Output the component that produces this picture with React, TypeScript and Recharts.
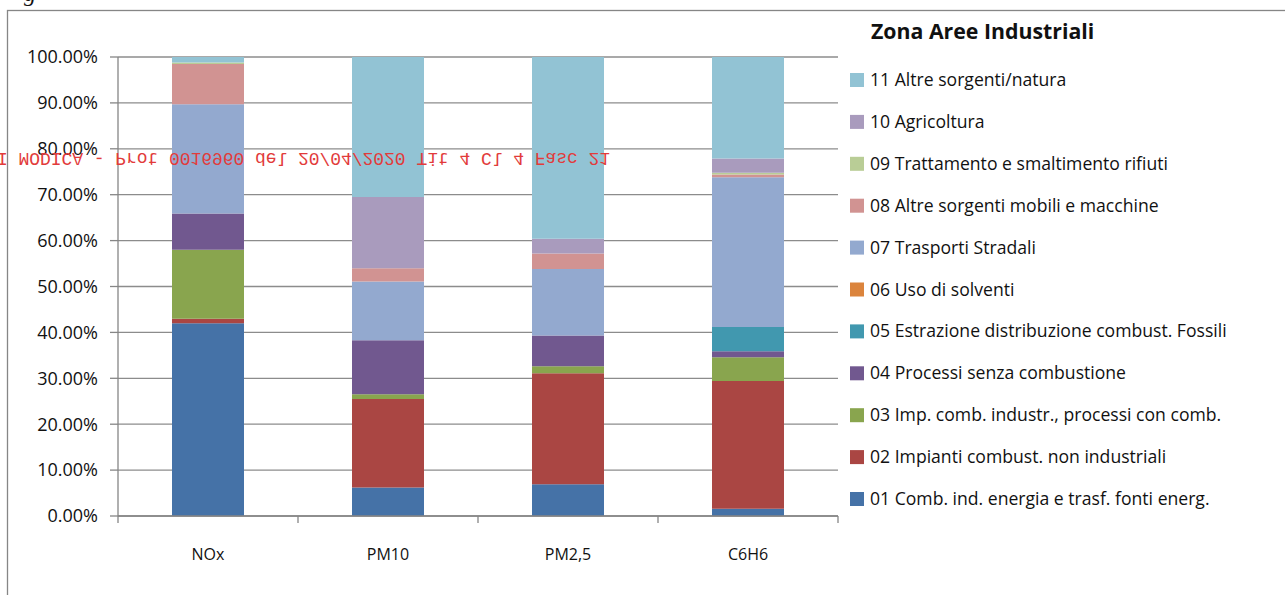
import { BarChart, Bar, XAxis, YAxis, CartesianGrid } from "recharts";

const categories = ["NOx", "PM10", "PM2,5", "C6H6"];

// share (%) of each emission macrosector per pollutant
const s01 = [42.0, 6.2, 6.9, 1.6];
const s02 = [1.0, 19.3, 24.2, 27.8];
const s03 = [15.0, 1.0, 1.5, 5.2];
const s04 = [7.9, 11.8, 6.7, 1.3];
const s05 = [0, 0, 0, 5.3];
const s06 = [0, 0, 0, 0];
const s07 = [23.8, 12.8, 14.5, 32.6];
const s08 = [8.8, 2.9, 3.4, 0.6];
const s09 = [0.3, 0, 0, 0.4];
const s10 = [0, 15.5, 3.2, 3.1];
const s11 = [1.2, 30.5, 39.6, 22.1];

const seriesValues = [s01, s02, s03, s04, s05, s06, s07, s08, s09, s10, s11];
const seriesKeys = ["s01", "s02", "s03", "s04", "s05", "s06", "s07", "s08", "s09", "s10", "s11"];
const seriesNames = [
  "01 Comb. ind. energia e trasf. fonti energ.",
  "02 Impianti combust. non industriali",
  "03 Imp. comb. industr., processi con comb.",
  "04 Processi senza combustione",
  "05 Estrazione distribuzione combust. Fossili",
  "06 Uso di solventi",
  "07 Trasporti Stradali",
  "08 Altre sorgenti mobili e macchine",
  "09 Trattamento e smaltimento rifiuti",
  "10 Agricoltura",
  "11 Altre sorgenti/natura",
];
const seriesColors = [
  "#4572a7",
  "#aa4643",
  "#89a54e",
  "#71588f",
  "#4198af",
  "#db843d",
  "#93a9cf",
  "#d19392",
  "#b9cd96",
  "#a99bbd",
  "#92c3d4",
];
const yTicks = [0, 10, 20, 30, 40, 50, 60, 70, 80, 90, 100];

const chartTitle = "Zona Aree Industriali";
const watermark = "I MODICA - Prot 0016960 del 20/04/2020 Tit 4 Cl 4 Fasc 21";

const data = categories.map((name, i) => {
  const row: Record<string, string | number> = { name };
  seriesKeys.forEach((k, j) => {
    row[k] = seriesValues[j][i];
  });
  return row;
});

const W = 1285;
const H = 595;
const M = { top: 57, right: 447, bottom: 39, left: 0 };
const Y_W = 118;
const X_H = 40;
const HALF_BAND = (W - M.left - Y_W - M.right) / categories.length / 2;
const GRAY = "#868686";
const FONT = "'Open Sans', Lato, sans-serif";

const XTick = (props: any) => {
  const { x, y, payload, index } = props;
  return (
    <g>
      <line x1={x - HALF_BAND} x2={x - HALF_BAND} y1={y} y2={y + 7} stroke={GRAY} strokeWidth={1.3} />
      {index === categories.length - 1 && (
        <line x1={x + HALF_BAND} x2={x + HALF_BAND} y1={y} y2={y + 7} stroke={GRAY} strokeWidth={1.3} />
      )}
      <text x={x} y={y + 44} textAnchor="middle" fontSize={16} fontFamily={FONT} fill="#111">
        {payload.value}
      </text>
    </g>
  );
};

export default function App() {
  return (
    <div style={{ position: "absolute", left: 0, top: 0, width: W, height: H, background: "#fff" }}>
      <BarChart width={W} height={H} data={data} margin={M} barSize={72}>
        <CartesianGrid vertical={false} stroke="#8c8c8c" strokeWidth={1.3} />
        <XAxis
          dataKey="name"
          height={X_H}
          axisLine={{ stroke: GRAY, strokeWidth: 1.3 }}
          tickLine={false}
          tickSize={0}
          tickMargin={0}
          tick={<XTick />}
          interval={0}
        />
        <YAxis
          width={Y_W}
          domain={[0, 100]}
          ticks={yTicks}
          interval={0}
          axisLine={{ stroke: GRAY, strokeWidth: 1.3 }}
          tickLine={{ stroke: GRAY, strokeWidth: 1.3 }}
          tickSize={8}
          tickMargin={12}
          tickFormatter={(v: number) => `${v.toFixed(2)}%`}
          tick={{ fontSize: 18, fontFamily: FONT, fill: "#111" }}
        />
        {seriesKeys.map((k, j) => (
          <Bar key={k} dataKey={k} name={seriesNames[j]} stackId="a" fill={seriesColors[j]} isAnimationActive={false} />
        ))}
      </BarChart>
      <svg width={W} height={H} style={{ position: "absolute", left: 0, top: 0, pointerEvents: "none" }}>
        <rect x={7.5} y={10.5} width={1300} height={700} fill="none" stroke={GRAY} strokeWidth={1.3} />
        <text x={24} y={1} fontSize={24} fontStyle="italic" fontFamily="'Liberation Serif', serif" fill="#111">
          g
        </text>
        <text x={871} y={39} fontSize={21.3} fontWeight="bold" fontFamily={FONT} fill="#111">
          {chartTitle}
        </text>
        {seriesNames
          .map((n, j) => ({ n, c: seriesColors[j] }))
          .reverse()
          .map((it, k) => {
            const cy = 80 + k * 41.9;
            return (
              <g key={it.n}>
                <rect x={850} y={cy - 7} width={14} height={14} fill={it.c} />
                <text x={870} y={cy + 6} fontSize={17.6} fontFamily={FONT} fill="#111">
                  {it.n}
                </text>
              </g>
            );
          })}
        <g transform="translate(0,153) scale(1,-1)">
          <text
            x={-3}
            y={0}
            fontSize={18}
            fontFamily="'Liberation Mono', monospace"
            fill="#e23b3b"
            textLength={613}
            lengthAdjust="spacing"
          >
            {watermark}
          </text>
        </g>
      </svg>
    </div>
  );
}
